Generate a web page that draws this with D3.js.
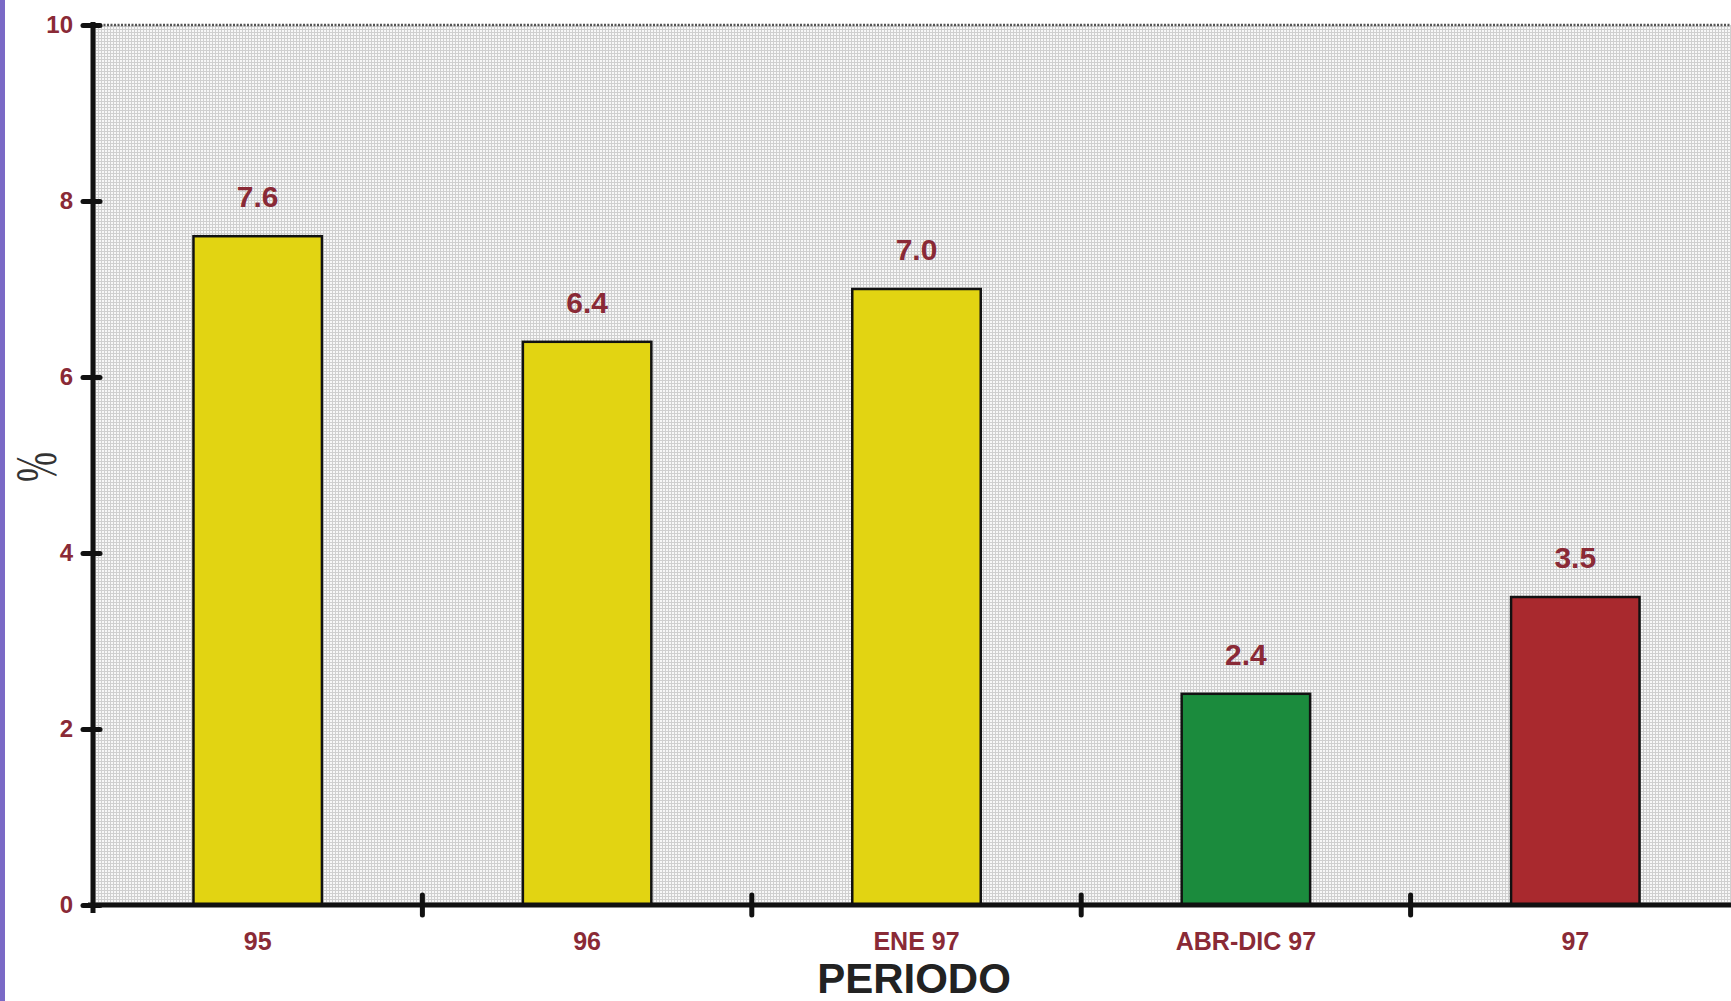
<!DOCTYPE html>
<html>
<head>
<meta charset="utf-8">
<script src="https://cdn.jsdelivr.net/npm/d3@7/dist/d3.min.js"></script>
<style>
  html, body { margin: 0; padding: 0; background: #ffffff; }
  svg { display: block; }
</style>
</head>
<body>
<script>
// Periods on the horizontal axis
const periods = ["95", "96", "ENE 97", "ABR-DIC 97", "97"];
// Percentage for each period
const values = [7.6, 6.4, 7.0, 2.4, 3.5];
// Bar fill for each period
const barColors = ["#e2d412", "#e2d412", "#e2d412", "#1b8b3d", "#a9292e"];
// Value-axis ticks
const yTicks = [0, 2, 4, 6, 8, 10];
const xTitle = "PERIODO";
const yTitle = "%";

const W = 1731, H = 1001;
const plotLeft = 93, plotRight = 1740, plotTop = 25, plotBottom = 905;
const labelColor = "#8a2a36";

const svg = d3.select("body").append("svg")
  .attr("width", W).attr("height", H);

// dotted-grid texture for the plot area
const defs = svg.append("defs");
const pat = defs.append("pattern")
  .attr("id", "grain").attr("patternUnits", "userSpaceOnUse")
  .attr("width", 3).attr("height", 3);
pat.append("rect").attr("width", 3).attr("height", 3).attr("fill", "#cfcfcf");
pat.append("rect").attr("width", 2).attr("height", 2).attr("fill", "#f7f7f7");

// purple strip at the left edge
svg.append("rect").attr("x", 0).attr("y", 0).attr("width", 5).attr("height", H)
  .attr("fill", "#7a69c6");

const x = d3.scaleBand().domain(periods).range([plotLeft, plotRight])
  .paddingInner(0.61).paddingOuter(0.305);
const y = d3.scaleLinear().domain([0, 10]).range([plotBottom, plotTop]);

// plot background
svg.append("rect")
  .attr("x", plotLeft).attr("y", y(10))
  .attr("width", W - plotLeft).attr("height", y(0) - y(10))
  .attr("fill", "url(#grain)");

// dotted top border
svg.append("line")
  .attr("x1", plotLeft).attr("x2", W).attr("y1", y(10)).attr("y2", y(10))
  .attr("stroke", "#555").attr("stroke-width", 2.5).attr("stroke-dasharray", "2,1.5");

// bars
svg.append("g").selectAll("rect").data(periods).join("rect")
  .attr("x", d => x(d))
  .attr("y", (d, i) => y(values[i]))
  .attr("width", x.bandwidth())
  .attr("height", (d, i) => y(0) - y(values[i]))
  .attr("fill", (d, i) => barColors[i])
  .attr("stroke", "#111").attr("stroke-width", 2.5);

// value labels
svg.append("g").selectAll("text").data(periods).join("text")
  .attr("x", d => x(d) + x.bandwidth() / 2)
  .attr("y", (d, i) => y(values[i]) - 29)
  .attr("text-anchor", "middle")
  .attr("font-family", "Liberation Sans, Arial, sans-serif")
  .attr("font-weight", "bold").attr("font-size", 30)
  .attr("fill", labelColor)
  .text((d, i) => values[i].toFixed(1));

// value axis
const yAxis = svg.append("g").attr("transform", `translate(${plotLeft},0)`)
  .call(d3.axisLeft(y).tickValues(yTicks).tickSize(10).tickPadding(10).tickFormat(d3.format("d")));
yAxis.select(".domain").remove();
yAxis.selectAll(".tick line")
  .attr("x2", -10).attr("x1", 7)
  .attr("stroke", "#111").attr("stroke-width", 5).attr("stroke-linecap", "round");
yAxis.selectAll(".tick text")
  .attr("font-family", "Liberation Sans, Arial, sans-serif")
  .attr("font-weight", "bold").attr("font-size", 24)
  .attr("fill", labelColor).attr("dy", "0.3em").attr("x", -20);
svg.append("line")
  .attr("x1", plotLeft).attr("x2", plotLeft).attr("y1", y(10) - 3).attr("y2", y(0) + 8)
  .attr("stroke", "#111").attr("stroke-width", 5);

// category axis
const boundaries = periods.slice(1).map(p => x(p) - x.step() * x.paddingInner() / 2);
svg.append("line")
  .attr("x1", plotLeft - 5).attr("x2", W).attr("y1", y(0)).attr("y2", y(0))
  .attr("stroke", "#111").attr("stroke-width", 5);
svg.append("g").selectAll("line").data(boundaries).join("line")
  .attr("x1", d => d).attr("x2", d => d)
  .attr("y1", y(0) - 10).attr("y2", y(0) + 10)
  .attr("stroke", "#111").attr("stroke-width", 5).attr("stroke-linecap", "round");

svg.append("g").selectAll("text").data(periods).join("text")
  .attr("x", d => x(d) + x.bandwidth() / 2)
  .attr("y", 950)
  .attr("text-anchor", "middle")
  .attr("font-family", "Liberation Sans, Arial, sans-serif")
  .attr("font-weight", "bold").attr("font-size", 25)
  .attr("fill", labelColor)
  .text(d => d);

// axis titles
svg.append("text")
  .attr("x", 914).attr("y", 993)
  .attr("text-anchor", "middle")
  .attr("font-family", "Liberation Sans, Arial, sans-serif")
  .attr("font-weight", "bold").attr("font-size", 42)
  .attr("fill", "#222")
  .text(xTitle);

svg.append("text")
  .attr("transform", "translate(56,467) rotate(-90) scale(0.6,1)")
  .attr("text-anchor", "middle")
  .attr("font-family", "Liberation Serif, Times New Roman, serif")
  .attr("font-size", 60)
  .attr("fill", "#333")
  .text(yTitle);
</script>
</body>
</html>
